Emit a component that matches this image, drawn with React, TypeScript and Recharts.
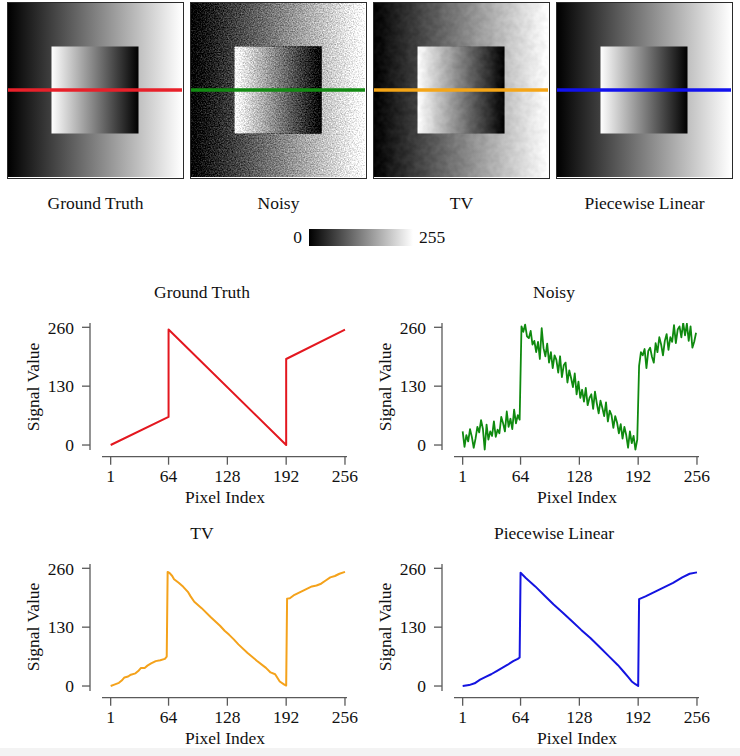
import { LineChart, Line, XAxis, YAxis, ReferenceArea } from "recharts";

// ---- axes ----
const PIXEL_TICKS = [1, 64, 128, 192, 256];
const SIGNAL_TICKS = [0, 130, 260];

// ---- image geometry (pixels of the 256x256 test image) ----
const IMAGE_EXTENT = [0, 256];
const INNER_EXTENT = [64, 192];
const PROFILE_ROW = 128;

// ---- signals ----
const GT_PIXELS = [1, 64, 64, 192, 192, 256];
const GT_VALUES = [0, 62, 255, 0, 190, 255];

// noisy profile, every second pixel (1, 3, 5, ... 255)
const NOISY_VALUES = [
  30, -4, 22, 8, 35, 18, -6, 14, 40, 28,
  55, 36, -10, 45, 12, 30, 20, 52, 18, 34,
  26, 62, 48, 30, 74, 40, 58, 35, 78, 48,
  66, 56,
  262, 250, 266, 240, 236, 252, 222, 230, 205, 228,
  190, 258, 214, 196, 224, 182, 205, 170, 198, 188,
  160, 196, 150, 176, 182, 138, 165, 148, 128, 158,
  112, 140, 104, 122, 96, 126, 88, 104, 112, 80,
  118, 92, 70, 98, 82, 64, 94, 52, 76, 66,
  38, 64, 50, 26, 46, 14, 40, 22, -6, 30,
  4, 20, -10, 12,
  175, 205, 198, 212, 170, 208, 215, 195, 182, 225,
  205, 238, 222, 198, 230, 245, 210, 238, 228, 265,
  225, 255, 262, 238, 270, 242, 268, 230, 262, 215,
  228, 248,
];
const NOISY_PIXELS = NOISY_VALUES.map((_, i) => 1 + 2 * i);

const TV_PIXELS = [
  1, 5, 10, 13, 16, 20, 23, 28, 31, 34, 38, 41, 45, 50, 55, 60, 62, 63,
  65, 68, 70, 75, 80, 85, 88, 92, 100, 110, 120, 125, 130, 135, 140, 150,
  160, 170, 175, 180, 185, 190, 192, 193, 196, 200, 205, 210, 215, 220,
  225, 230, 235, 240, 245, 250, 256,
];
const TV_VALUES = [
  0, 3, 7, 12, 19, 21, 25, 28, 33, 40, 40, 45, 50, 55, 57, 60, 65, 252,
  250, 243, 236, 228, 219, 208, 198, 186, 172, 152, 133, 122, 113, 103, 92, 73,
  56, 40, 30, 26, 10, 3, 1, 193, 194, 200, 205, 210, 215, 220,
  222, 226, 233, 240, 243, 248, 252,
];

const PL_PIXELS = [
  1, 8, 14, 20, 26, 32, 38, 44, 50, 56, 61, 63, 64, 70, 80, 90, 100, 110,
  120, 130, 140, 150, 160, 170, 176, 181, 185, 189, 192, 193, 200, 210,
  220, 230, 240, 248, 256,
];
const PL_VALUES = [
  0, 2, 6, 14, 20, 26, 33, 40, 47, 55, 60, 63, 250, 238, 220, 200, 180, 162,
  143, 124, 106, 86, 66, 46, 32, 20, 10, 4, 0, 192, 198, 208,
  218, 228, 240, 248, 251,
];

const FONT = '"Liberation Serif", "Times New Roman", serif';
const AXIS = "#5a5a5a";
const INK = "#111";

function ImagePanel({
  id,
  left,
  color,
  noise,
}: {
  id: string;
  left: number;
  color: string;
  noise?: { freq: number; amp: number; octaves: number };
}) {
  const row = IMAGE_EXTENT.map((x) => ({ x, y: PROFILE_ROW }));
  const filter = noise ? `url(#${id}-noise)` : undefined;
  return (
    <div
      style={{
        position: "absolute",
        left,
        top: 2,
        width: 177,
        height: 177,
        border: "1.5px solid #2a2a2a",
        boxSizing: "border-box",
        overflow: "hidden",
      }}
    >
      <LineChart width={174} height={174} data={row} margin={{ top: 0, right: 0, bottom: 0, left: 0 }}>
        <defs>
          <linearGradient id={`${id}-outer`} x1="0" y1="0" x2="1" y2="0">
            <stop offset="0%" stopColor="#000" />
            <stop offset="100%" stopColor="#fff" />
          </linearGradient>
          <linearGradient id={`${id}-inner`} x1="0" y1="0" x2="1" y2="0">
            <stop offset="0%" stopColor="#fff" />
            <stop offset="100%" stopColor="#000" />
          </linearGradient>
          {noise && (
            <filter
              id={`${id}-noise`}
              x="0"
              y="0"
              width="100%"
              height="100%"
              colorInterpolationFilters="sRGB"
            >
              <feTurbulence
                type="fractalNoise"
                baseFrequency={noise.freq}
                numOctaves={noise.octaves}
                seed={7}
                result="t"
              />
              <feColorMatrix
                in="t"
                type="matrix"
                values="1 0 0 0 0  1 0 0 0 0  1 0 0 0 0  0 0 0 0 1"
                result="g"
              />
              <feComposite
                in="SourceGraphic"
                in2="g"
                operator="arithmetic"
                k1={0}
                k2={1}
                k3={noise.amp}
                k4={-noise.amp / 2}
              />
            </filter>
          )}
        </defs>
        <XAxis type="number" dataKey="x" domain={IMAGE_EXTENT} hide />
        <YAxis type="number" domain={IMAGE_EXTENT} hide />
        <ReferenceArea
          x1={IMAGE_EXTENT[0]}
          x2={IMAGE_EXTENT[1]}
          y1={IMAGE_EXTENT[0]}
          y2={IMAGE_EXTENT[1]}
          fill={`url(#${id}-outer)`}
          fillOpacity={1}
          stroke="none"
          filter={filter}
        />
        <ReferenceArea
          x1={INNER_EXTENT[0]}
          x2={INNER_EXTENT[1]}
          y1={INNER_EXTENT[0]}
          y2={INNER_EXTENT[1]}
          fill={`url(#${id}-inner)`}
          fillOpacity={1}
          stroke="none"
          filter={filter}
        />
        <Line
          dataKey="y"
          stroke={color}
          strokeWidth={3.5}
          dot={false}
          isAnimationActive={false}
        />
      </LineChart>
    </div>
  );
}

function SignalChart({
  title,
  pixels,
  values,
  color,
  width,
  left,
  top,
}: {
  title: string;
  pixels: number[];
  values: number[];
  color: string;
  width: number;
  left: number;
  top: number;
}) {
  const data = pixels.map((p, i) => ({ p, v: values[i] }));
  const text = { position: "absolute" as const, fontFamily: FONT, fontSize: 17.5, color: INK, whiteSpace: "nowrap" as const };
  return (
    <div style={{ position: "absolute", left, top, width: 370, height: 240 }}>
      <LineChart width={370} height={240} data={data} margin={{ top: 43, right: 23, bottom: 0, left: 0 }}>
        <XAxis
          type="number"
          dataKey="p"
          domain={[-21.5, 258.2]}
          allowDataOverflow
          ticks={PIXEL_TICKS}
          interval={0}
          height={63.3}
          tickSize={8}
          tickMargin={5}
          axisLine={{ stroke: AXIS, strokeWidth: 1.3, strokeDasharray: "0 12 400" }}
          tickLine={{ stroke: AXIS, strokeWidth: 1.3 }}
          tick={{ fill: INK, fontSize: 17.5, fontFamily: FONT }}
        />
        <YAxis
          type="number"
          domain={[-25.8, 269.5]}
          allowDataOverflow
          ticks={SIGNAL_TICKS}
          interval={0}
          width={90}
          tickSize={8}
          tickMargin={8}
          axisLine={{ stroke: AXIS, strokeWidth: 1.3, strokeDasharray: "127 100" }}
          tickLine={{ stroke: AXIS, strokeWidth: 1.3 }}
          tick={{ fill: INK, fontSize: 17.5, fontFamily: FONT }}
        />
        <Line
          type="linear"
          dataKey="v"
          stroke={color}
          strokeWidth={width}
          strokeLinejoin="round"
          dot={false}
          isAnimationActive={false}
        />
      </LineChart>
      <div style={{ ...text, left: 0, width: 404, top: 2, textAlign: "center" }}>{title}</div>
      <div
        style={{ ...text, left: 33, top: 106.7, transform: "translate(-50%, -50%) rotate(-90deg)" }}
      >
        Signal Value
      </div>
      <div style={{ ...text, left: 225, top: 217, transform: "translate(-50%, -50%)" }}>
        Pixel Index
      </div>
    </div>
  );
}

const caption = {
  position: "absolute" as const,
  top: 193,
  width: 177,
  textAlign: "center" as const,
  fontFamily: FONT,
  fontSize: 17.5,
  color: INK,
};

export default function App() {
  return (
    <div
      style={{
        position: "absolute",
        left: 0,
        top: 0,
        width: 740,
        height: 756,
        background: "#fff",
        overflow: "hidden",
      }}
    >
      <ImagePanel id="gt" left={7} color="#e8202a" />
      <ImagePanel id="noisy" left={190} color="#128a12" noise={{ freq: 0.77, amp: 0.6, octaves: 2 }} />
      <ImagePanel id="tv" left={373} color="#f5a516" noise={{ freq: 0.15, amp: 0.1, octaves: 2 }} />
      <ImagePanel id="pl" left={556} color="#1212ee" />

      <div style={{ ...caption, left: 7 }}>Ground Truth</div>
      <div style={{ ...caption, left: 190 }}>Noisy</div>
      <div style={{ ...caption, left: 373 }}>TV</div>
      <div style={{ ...caption, left: 556 }}>Piecewise Linear</div>

      <div style={{ ...caption, top: 227, left: 200, width: 102, textAlign: "right" }}>0</div>
      <div
        style={{
          position: "absolute",
          left: 309,
          top: 229,
          width: 104,
          height: 17,
          background: "linear-gradient(to right, #000, #fff)",
        }}
      />
      <div style={{ ...caption, top: 227, left: 419, width: 60, textAlign: "left" }}>255</div>

      <SignalChart title="Ground Truth" pixels={GT_PIXELS} values={GT_VALUES} color="#e3171f" width={2} left={0} top={280} />
      <SignalChart title="Noisy" pixels={NOISY_PIXELS} values={NOISY_VALUES} color="#0f8a0f" width={1.8} left={352} top={280} />
      <SignalChart title="TV" pixels={TV_PIXELS} values={TV_VALUES} color="#f4a21b" width={2} left={0} top={520.5} />
      <SignalChart title="Piecewise Linear" pixels={PL_PIXELS} values={PL_VALUES} color="#1414e0" width={2} left={352} top={520.5} />

      <div style={{ position: "absolute", left: 0, top: 748, width: 740, height: 8, background: "#f3f3f3" }} />
    </div>
  );
}
